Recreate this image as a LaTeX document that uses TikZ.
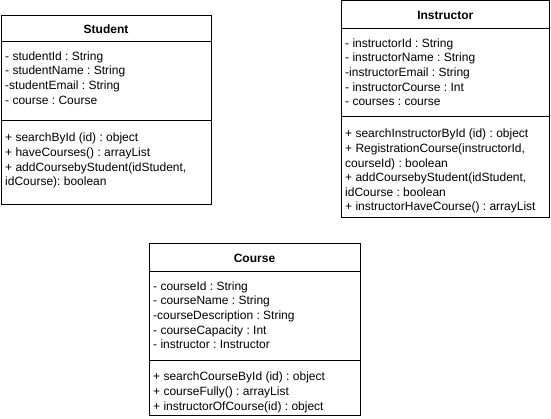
\documentclass[tikz,border=0pt]{standalone}
\usepackage{fontspec}
\setmainfont{Liberation Sans}
\usetikzlibrary{positioning}
\frenchspacing
\begin{document}
\begin{tikzpicture}[x=1pt,y=-1pt,
  classhead/.style={draw, line width=1pt, outer sep=0pt, inner sep=0pt, anchor=north west, font=\fontsize{12}{14.5}\selectfont\bfseries},
  classpart/.style={draw, line width=1pt, outer sep=0pt, inner sep=0pt},
  members/.style={anchor=north west, align=left, inner xsep=4pt, inner ysep=9.5pt, font=\fontsize{12}{14.6}\selectfont}]
  \useasboundingbox (0,0) rectangle (551,419);
  % Student
  \node[classhead, minimum width=210pt, minimum height=26.5pt] (studentHead) at (1,15.5) {Student};
  \node[classpart, minimum width=210pt, minimum height=79pt, below=0pt of studentHead] (studentAttr) {};
  \node[classpart, minimum width=210pt, minimum height=84pt, below=0pt of studentAttr] (studentMeth) {};
  \node[members] (studentAttrText) at (studentAttr.north west) {- studentId : String\\- studentName : String\\-studentEmail : String\\- course : Course};
  \node[members, inner ysep=12pt] (studentMethText) at (studentMeth.north west) {+ searchById (id) : object\\+ haveCourses() : arrayList\\+ addCoursebyStudent(idStudent,\\idCourse): boolean};
  % Instructor
  \node[classhead, minimum width=208.5pt, minimum height=28pt] (instructorHead) at (341,1) {Instructor};
  \node[classpart, minimum width=208.5pt, minimum height=88pt, below=0pt of instructorHead] (instructorAttr) {};
  \node[classpart, minimum width=208.5pt, minimum height=101pt, below=0pt of instructorAttr] (instructorMeth) {};
  \node[members] (instructorAttrText) at (instructorAttr.north west) {- instructorId : String\\- instructorName : String\\-instructorEmail : String\\- instructorCourse : Int\\- courses : course};
  \node[members, inner ysep=12pt] (instructorMethText) at (instructorMeth.north west) {+ searchInstructorById (id) : object\\+ RegistrationCourse(instructorId,\\courseId) : boolean\\+ addCoursebyStudent(idStudent,\\idCourse : boolean\\+ instructorHaveCourse() : arrayList};
  % Course
  \node[classhead, minimum width=211pt, minimum height=28pt] (courseHead) at (149,244) {Course};
  \node[classpart, minimum width=211pt, minimum height=88pt, below=0pt of courseHead] (courseAttr) {};
  \node[classpart, minimum width=211pt, minimum height=55pt, below=0pt of courseAttr] (courseMeth) {};
  \node[members] (courseAttrText) at (courseAttr.north west) {- courseId : String\\- courseName : String\\-courseDescription : String\\- courseCapacity : Int\\- instructor : Instructor};
  \node[members, inner ysep=12pt] (courseMethText) at (courseMeth.north west) {+ searchCourseById (id) : object\\+ courseFully() : arrayList\\+ instructorOfCourse(id) : object};
\end{tikzpicture}
\end{document}
